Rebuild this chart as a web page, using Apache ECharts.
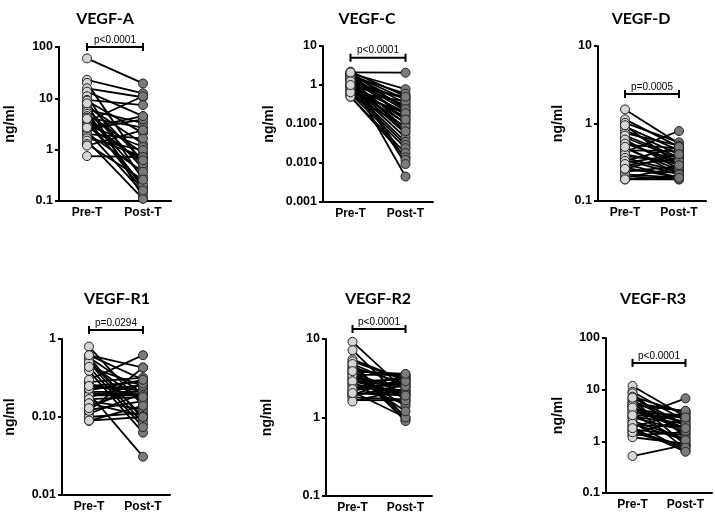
<!DOCTYPE html>
<html>
<head>
<meta charset="utf-8">
<script src="https://cdn.jsdelivr.net/npm/echarts@6/dist/echarts.min.js"></script>
<style>html,body{margin:0;padding:0;background:#fff}#c{width:715px;height:512px}</style>
</head>
<body>
<div id="c"></div>
<script>
// ---------- data ----------
const categories = ['Pre-T', 'Post-T'];
const titles = ['VEGF-A', 'VEGF-C', 'VEGF-D', 'VEGF-R1', 'VEGF-R2', 'VEGF-R3'];
const pLabels = ['p<0.0001', 'p<0.0001', 'p=0.0005', 'p=0.0294', 'p<0.0001', 'p<0.0001'];
const bracketLevels = [100, 5, 2.4, 1.3, 13.4, 33];
const yMins = [0.1, 0.001, 0.1, 0.01, 0.1, 0.1];
const yMaxs = [100, 10, 10, 1, 10, 100];
const tickLabelsA = ['0.1', '1', '10', '100'];
const tickLabelsC = ['0.001', '0.010', '0.100', '1', '10'];
const tickLabelsD = ['0.1', '1', '10'];
const tickLabelsR1 = ['0.01', '0.10', '1'];
const tickLabelsR2 = ['0.1', '1', '10'];
const tickLabelsR3 = ['0.1', '1', '10', '100'];

const preA  = [60, 23, 20, 15.7, 13.5, 11, 9.3, 9, 7.7, 7, 6.4, 6, 5.5, 5, 4.5, 4.2, 3.8, 3.5, 3.3, 3.0, 2.8, 2.5, 2.3, 2.1, 2.0, 1.8, 1.66, 1.5, 1.29, 1.2, 2.7, 0.75, 4, 8];
const postA = [19.5, 12.5, 0.5, 10.5, 4.5, 0.26, 7.4, 2.1, 0.12, 1.3, 0.43, 3.3, 0.18, 0.85, 0.3, 2.7, 0.53, 11, 0.21, 1.14, 0.63, 3.9, 0.145, 0.37, 1.66, 0.73, 0.98, 0.11, 0.26, 2.4, 4.5, 0.72, 0.16, 0.62];

const preC  = [2.1, 2.0, 2.2, 1.9, 1.8, 1.7, 1.6, 1.5, 1.4, 2.0, 1.3, 1.2, 1.15, 1.1, 1.0, 0.95, 0.9, 0.85, 0.8, 0.75, 0.7, 0.67, 0.6, 0.55, 0.5, 0.5, 1.8, 1.6, 1.4, 1.25, 2.1, 0.9, 0.65, 1.0];
const postC = [2.07, 0.78, 0.52, 0.43, 0.34, 0.6, 0.27, 0.22, 0.17, 0.126, 0.1, 0.45, 0.078, 0.3, 0.058, 0.2, 0.045, 0.15, 0.035, 0.11, 0.029, 0.38, 0.024, 0.085, 0.018, 0.014, 0.012, 0.0094, 0.0045, 0.065, 0.24, 0.5, 0.19, 0.13];

const preD  = [1.52, 1.13, 1.02, 0.91, 0.82, 0.75, 0.66, 0.58, 0.53, 0.48, 0.43, 0.38, 0.34, 0.31, 0.27, 0.24, 0.21, 0.19, 0.7, 0.62, 0.45, 0.4, 0.36, 0.29, 0.25, 0.22, 0.2, 0.19, 0.55, 0.5, 0.33, 0.3, 0.26, 0.95];
const postD = [0.55, 0.5, 0.57, 0.45, 0.4, 0.52, 0.35, 0.3, 0.48, 0.25, 0.8, 0.32, 0.22, 0.4, 0.2, 0.28, 0.19, 0.21, 0.37, 0.26, 0.44, 0.3, 0.24, 0.35, 0.23, 0.2, 0.27, 0.19, 0.33, 0.22, 0.5, 0.2, 0.4, 0.29];

const preR1  = [0.8, 0.62, 0.58, 0.53, 0.48, 0.44, 0.39, 0.2, 0.28, 0.265, 0.245, 0.22, 0.2, 0.18, 0.16, 0.14, 0.123, 0.11, 0.1, 0.089, 0.3, 0.12, 0.58, 0.5, 0.44, 0.21, 0.19, 0.23, 0.25, 0.17, 0.15, 0.13, 0.09, 0.62];
const postR1 = [0.14, 0.43, 0.2, 0.1, 0.16, 0.25, 0.063, 0.031, 0.32, 0.18, 0.22, 0.3, 0.197, 0.265, 0.125, 0.23, 0.16, 0.2, 0.113, 0.14, 0.62, 0.43, 0.094, 0.083, 0.074, 0.21, 0.19, 0.25, 0.28, 0.18, 0.103, 0.27, 0.1, 0.3];

const preR2  = [9.2, 7.2, 5.5, 5.0, 4.6, 4.4, 4.2, 4.0, 3.8, 3.65, 3.5, 3.24, 3.1, 3.0, 2.86, 2.7, 2.6, 2.5, 2.35, 2.2, 2.13, 2.0, 1.95, 1.88, 1.8, 1.67, 1.6, 5.2, 3.4, 2.9, 4.8, 2.3, 3.9, 2.05];
const postR2 = [2.2, 1.6, 3.0, 1.0, 0.93, 2.7, 0.9, 3.3, 2.0, 1.4, 3.5, 2.5, 1.8, 2.4, 3.1, 1.9, 2.2, 1.5, 3.4, 2.8, 1.0, 2.1, 3.2, 2.6, 1.7, 1.65, 2.3, 3.0, 1.2, 2.0, 2.5, 2.9, 3.6, 1.9];

const preR3  = [11.8, 9.1, 8.5, 7.3, 6.5, 6.1, 5.6, 5.3, 4.8, 4.35, 4.0, 3.6, 3.3, 3.0, 2.8, 2.5, 2.3, 2.07, 1.9, 1.71, 1.6, 1.43, 1.3, 1.2, 0.52, 5.0, 3.8, 2.9, 2.2, 1.5, 7.0, 4.5, 1.8, 3.2];
const postR3 = [3.0, 2.5, 1.2, 3.5, 0.85, 2.0, 3.8, 1.4, 0.7, 2.8, 1.7, 3.2, 0.99, 2.2, 6.8, 1.1, 0.65, 1.9, 3.6, 1.3, 0.8, 2.6, 1.5, 0.9, 0.85, 3.9, 2.4, 1.6, 1.05, 0.75, 2.1, 1.8, 0.63, 2.9];

const preSets  = [preA, preC, preD, preR1, preR2, preR3];
const postSets = [postA, postC, postD, postR1, postR2, postR3];
const tickLabelSets = [tickLabelsA, tickLabelsC, tickLabelsD, tickLabelsR1, tickLabelsR2, tickLabelsR3];

// ---------- layout ----------
const layout = [
  {left: 59,  top: 47,  width: 112, height: 154, nameGap: 42, titleX: 100, titleY: 6},
  {left: 323, top: 46,  width: 110, height: 156, nameGap: 47, titleX: 362, titleY: 6},
  {left: 598, top: 46,  width: 108, height: 155, nameGap: 33, titleX: 636, titleY: 6},
  {left: 62,  top: 339, width: 108, height: 156, nameGap: 45, titleX: 112, titleY: 286},
  {left: 326, top: 339, width: 106, height: 157, nameGap: 52, titleX: 373, titleY: 286},
  {left: 606, top: 338, width: 106, height: 155, nameGap: 41, titleX: 648, titleY: 286}
];

const FONT = '"Liberation Sans", Arial, sans-serif';
const grids = [], xAxes = [], yAxes = [], series = [], titleList = [];

layout.forEach((L, i) => {
  titleList.push({
    text: titles[i], left: L.titleX, top: L.titleY, textAlign: 'center',
    textStyle: {fontFamily: 'Lato, sans-serif', fontWeight: 'bold', fontSize: 16, color: '#000'}
  });
  grids.push({left: L.left, top: L.top, width: L.width, height: L.height, containLabel: false, outerBoundsMode: 'none'});
  xAxes.push({
    type: 'category', gridIndex: i, data: categories,
    axisLine: {lineStyle: {color: '#000', width: 2}},
    axisTick: {alignWithLabel: true, length: 4, lineStyle: {color: '#000', width: 2}},
    axisLabel: {color: '#000', fontFamily: FONT, fontWeight: 'bold', fontSize: 12, margin: 6},
    splitLine: {show: false}
  });
  const labels = tickLabelSets[i];
  const mn = yMins[i];
  yAxes.push({
    type: 'log', logBase: 10, gridIndex: i, min: mn, max: yMaxs[i],
    name: 'ng/ml', nameLocation: 'middle', nameRotate: 90, nameGap: L.nameGap,
    nameTextStyle: {color: '#000', fontFamily: FONT, fontWeight: 'bold', fontSize: 14},
    axisLine: {show: true, lineStyle: {color: '#000', width: 2}},
    axisTick: {show: true, length: 4, lineStyle: {color: '#000', width: 2}},
    minorTick: {show: false},
    splitLine: {show: false},
    axisLabel: {
      color: '#000', fontFamily: FONT, fontWeight: 'bold', fontSize: 12.5, margin: 6,
      formatter: v => labels[Math.round(Math.log10(v / mn))] || ''
    }
  });
  const pre = preSets[i], post = postSets[i];
  pre.forEach((v, k) => {
    series.push({
      type: 'line', xAxisIndex: i, yAxisIndex: i, data: [v, post[k]],
      symbol: 'none', silent: true, z: 2,
      lineStyle: {color: '#000', width: 1.8}
    });
  });
  series.push({
    type: 'scatter', xAxisIndex: i, yAxisIndex: i, z: 3, symbolSize: 9,
    data: pre.map(v => [0, v]),
    itemStyle: {color: '#d6d6d6', borderColor: '#222', borderWidth: 1, opacity: 1}
  });
  series.push({
    type: 'scatter', xAxisIndex: i, yAxisIndex: i, z: 3, symbolSize: 9,
    data: post.map(v => [1, v]),
    itemStyle: {color: '#7a7a7a', borderColor: '#222', borderWidth: 1, opacity: 1}
  });
  const pText = pLabels[i];
  series.push({
    type: 'custom', xAxisIndex: i, yAxisIndex: i, z: 4, clip: false, silent: true,
    data: [[0, bracketLevels[i]]],
    encode: {x: 0, y: 1},
    renderItem: (params, api) => {
      const lv = api.value(1);
      const a = api.coord([0, lv]);
      const b = api.coord([1, lv]);
      const st = {stroke: '#000', lineWidth: 2};
      return {
        type: 'group',
        children: [
          {type: 'line', shape: {x1: a[0], y1: a[1], x2: b[0], y2: b[1]}, style: st},
          {type: 'line', shape: {x1: a[0], y1: a[1] - 4, x2: a[0], y2: a[1] + 4}, style: st},
          {type: 'line', shape: {x1: b[0], y1: b[1] - 4, x2: b[0], y2: b[1] + 4}, style: st},
          {type: 'text', x: (a[0] + b[0]) / 2, y: a[1] - 2,
           style: {text: pText, fill: '#000', font: '10px ' + FONT, textAlign: 'center', textVerticalAlign: 'bottom'}}
        ]
      };
    }
  });
});

const chart = echarts.init(document.getElementById('c'), null, {renderer: 'canvas'});
chart.setOption({
  animation: false,
  backgroundColor: '#fff',
  title: titleList,
  grid: grids,
  xAxis: xAxes,
  yAxis: yAxes,
  series: series
});
</script>
</body>
</html>
